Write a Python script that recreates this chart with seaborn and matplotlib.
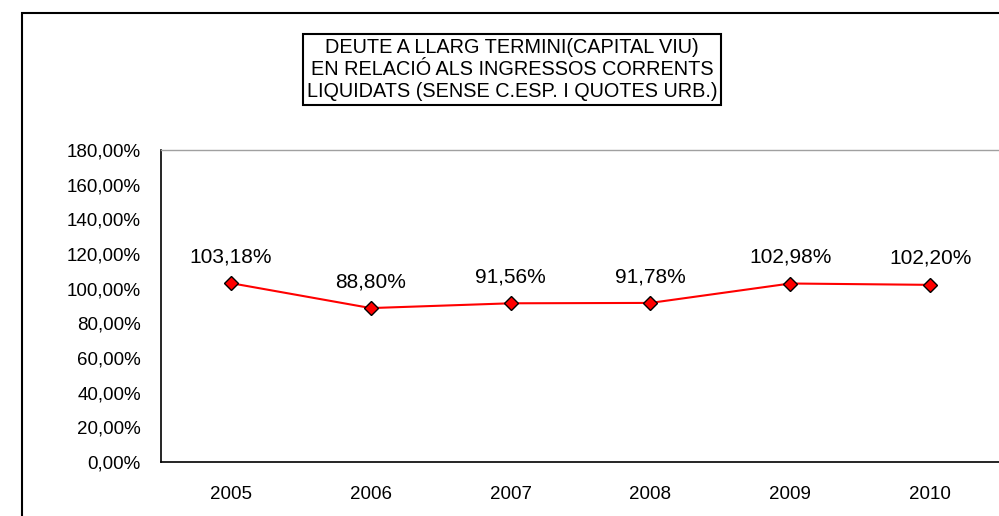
import matplotlib
matplotlib.use("Agg")
import matplotlib.pyplot as plt
import seaborn as sns
import numpy as np
import pandas as pd
from matplotlib.patches import Rectangle
from matplotlib.ticker import FixedLocator, FuncFormatter

years = ["2005", "2006", "2007", "2008", "2009", "2010"]
values = [103.18, 88.80, 91.56, 91.78, 102.98, 102.20]
yticks = [0, 20, 40, 60, 80, 100, 120, 140, 160, 180]
title_lines = ["DEUTE A LLARG TERMINI(CAPITAL VIU)",
               "EN RELACIÓ ALS INGRESSOS CORRENTS",
               "LIQUIDATS (SENSE C.ESP. I QUOTES URB.)"]

sns.set_style("white")
plt.rcParams['font.family'] = ['Liberation Sans', 'DejaVu Sans']
plt.rcParams['text.color'] = 'black'
plt.rcParams['xtick.color'] = 'black'
plt.rcParams['ytick.color'] = 'black'

W, H = 999, 516
fig = plt.figure(figsize=(W/100, H/100), dpi=100)
fig.patch.set_facecolor("white")

# outer frame
fig.patches.append(Rectangle((22/W, -0.1), 1.2, 1 - 13/H + 0.1, transform=fig.transFigure,
                             fill=False, edgecolor="black", linewidth=1.5, zorder=0))

ax = fig.add_axes([161/W, 1 - 462/H, (1000-161)/W, (462-150)/H])
df = pd.DataFrame({"pos": np.arange(len(years)), "val": values})
sns.lineplot(data=df, x="pos", y="val", ax=ax, color="#ff0000", linewidth=1.5,
             marker="D", markersize=7, markerfacecolor="#ff0000",
             markeredgecolor="black", markeredgewidth=1.0)

ax.set_xlim(-0.5, len(years) - 0.5)
ax.set_ylim(0, 180)
ax.set_xlabel("")
ax.set_ylabel("")
ax.set_xticks(range(len(years)))
ax.set_xticklabels(years, fontsize=13.5, color="black")
ax.xaxis.set_minor_locator(FixedLocator(np.arange(0.5, len(years) - 0.5, 1)))
ax.tick_params(axis="x", which="major", length=0, pad=17.5)
ax.tick_params(axis="x", which="minor", length=5, direction="in", color="#a0a0a0", width=1)
ax.set_yticks(yticks)
ax.yaxis.set_major_formatter(FuncFormatter(lambda v, p: f"{v:.2f}".replace(".", ",") + "%"))
ax.tick_params(axis="y", length=0, pad=14.5, labelsize=13.5, labelcolor="black")

for s in ["left", "bottom"]:
    ax.spines[s].set_color("black")
    ax.spines[s].set_linewidth(1.2)
ax.spines["top"].set_color("#a0a0a0")
ax.spines["top"].set_linewidth(1.0)
ax.spines["right"].set_color("#a0a0a0")
ax.grid(False)

for i, v in enumerate(values):
    ax.annotate(f"{v:.2f}".replace(".", ",") + "%", (i, v), xytext=(0, 19),
                textcoords="offset points", ha="center", va="center", fontsize=15,
                color="black")

fig.text(512/W, 1 - 69.5/H, "\n".join(title_lines), ha="center", va="center",
         fontsize=14.3, linespacing=1.19, color="black",
         bbox=dict(boxstyle="square,pad=0.2", facecolor="white", edgecolor="black", linewidth=1.5))

fig.savefig("out.png", dpi=100)
